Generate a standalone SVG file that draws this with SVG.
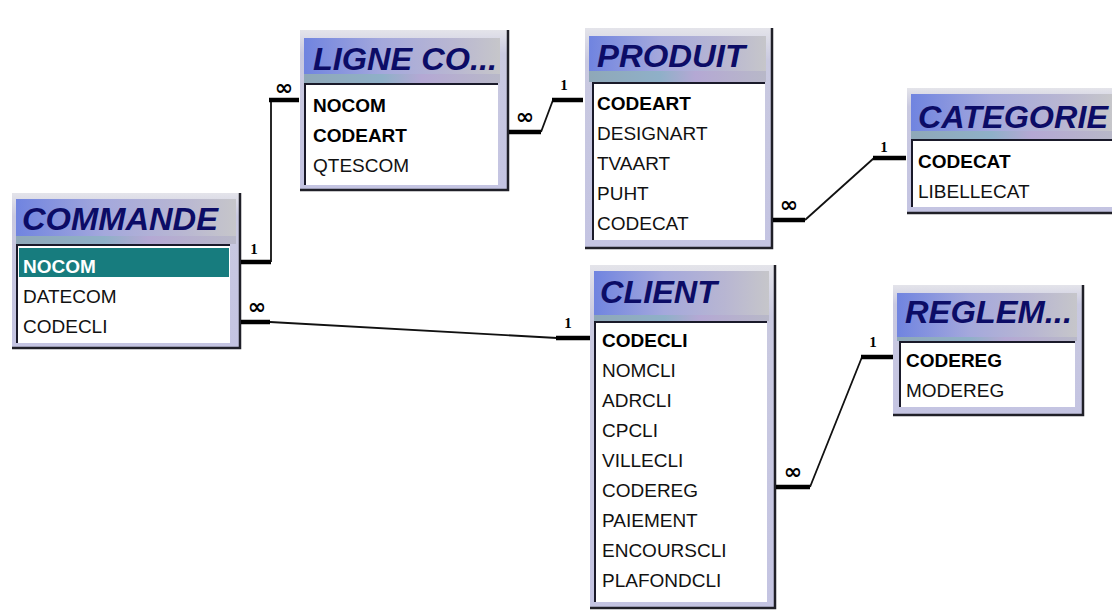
<svg xmlns="http://www.w3.org/2000/svg" width="1112" height="612" viewBox="0 0 1112 612">
<defs>
<linearGradient id="gFrame" x1="0" y1="0" x2="0" y2="1">
<stop offset="0" stop-color="#e4e4ea"/>
<stop offset="0.15" stop-color="#c9c9e0"/>
<stop offset="1" stop-color="#c4c4e2"/>
</linearGradient>
<linearGradient id="gTitle" x1="0" y1="0" x2="1" y2="0">
<stop offset="0" stop-color="#7084e0"/>
<stop offset="0.4" stop-color="#a4a8dc"/>
<stop offset="0.75" stop-color="#b8b6d2"/>
<stop offset="1" stop-color="#c6c6ca"/>
</linearGradient>
<linearGradient id="gStrip" x1="0" y1="0" x2="1" y2="0">
<stop offset="0" stop-color="#8fa8b8"/>
<stop offset="0.4" stop-color="#8fb0c8"/>
<stop offset="0.6" stop-color="#b4a8d4"/>
<stop offset="1" stop-color="#b8b8c8"/>
</linearGradient>
</defs>
<style>
.frame{fill:url(#gFrame);}
.title{fill:url(#gTitle);}
.strip{fill:url(#gStrip);}
.field{fill:#ffffff;}
.sunk{fill:none;stroke:#1a1a2a;stroke-width:2;}
.edge{fill:none;stroke:#202028;stroke-width:2.5;}
.ttl{font-family:"Liberation Sans",Arial,sans-serif;font-weight:bold;font-style:italic;font-size:31px;fill:#0c0c66;}
.fld{font-family:"Liberation Sans",Arial,sans-serif;font-size:19px;fill:#111111;}
.key{font-weight:bold;fill:#000000;}
.sel{fill:#177c7e;}
.thin{fill:none;stroke:#111111;stroke-width:1.8;}
.thick{fill:none;stroke:#000000;stroke-width:4.5;}
.one{font-family:"Liberation Serif","Times New Roman",serif;font-weight:bold;font-size:15px;fill:#000;text-anchor:middle;}
.many{font-family:"DejaVu Sans",sans-serif;font-weight:bold;font-size:22px;fill:#000;text-anchor:middle;}
</style>
<rect x="0" y="0" width="1112" height="612" fill="#ffffff"/>

<g id="commande">
<rect class="frame" x="12" y="193" width="228" height="155"/>
<rect class="title" x="16" y="199" width="220" height="37"/>
<rect class="strip" x="16" y="236" width="220" height="8"/>
<rect class="field" x="17" y="245" width="213" height="98"/>
<path class="sunk" d="M17,343 V245 H230"/>
<path class="edge" d="M240,193 V348 H12"/>
<text class="ttl" x="22" y="230" textLength="196" lengthAdjust="spacingAndGlyphs">COMMANDE</text>
<rect class="sel" x="19" y="248" width="210" height="29"/>
<text class="fld key" x="23" y="273" style="fill:#ffffff">NOCOM</text>
<text class="fld" x="23" y="303">DATECOM</text>
<text class="fld" x="23" y="333">CODECLI</text>
</g>

<g id="ligne">
<rect class="frame" x="300" y="30" width="208" height="160"/>
<rect class="title" x="304" y="38" width="196" height="36"/>
<rect class="strip" x="304" y="74" width="196" height="9"/>
<rect class="field" x="305" y="84" width="193" height="101"/>
<path class="sunk" d="M305,185 V84 H498"/>
<path class="edge" d="M508,30 V190 H300"/>
<text class="ttl" x="313" y="70" textLength="184" lengthAdjust="spacingAndGlyphs">LIGNE CO...</text>
<text class="fld key" x="313" y="112">NOCOM</text>
<text class="fld key" x="313" y="142">CODEART</text>
<text class="fld" x="313" y="172">QTESCOM</text>
</g>

<g id="produit">
<rect class="frame" x="585" y="28" width="187" height="220"/>
<rect class="title" x="589" y="36" width="177" height="35"/>
<rect class="strip" x="589" y="71" width="177" height="11"/>
<rect class="field" x="593" y="83" width="172" height="157"/>
<path class="sunk" d="M593,240 V83 H765"/>
<path class="edge" d="M772,28 V248 H585"/>
<text class="ttl" x="597" y="67" textLength="148" lengthAdjust="spacingAndGlyphs">PRODUIT</text>
<text class="fld key" x="597" y="110">CODEART</text>
<text class="fld" x="597" y="140">DESIGNART</text>
<text class="fld" x="597" y="170">TVAART</text>
<text class="fld" x="597" y="200">PUHT</text>
<text class="fld" x="597" y="230">CODECAT</text>
</g>

<g id="categorie">
<rect class="frame" x="907" y="88" width="205" height="125"/>
<rect class="title" x="911" y="94" width="201" height="37"/>
<rect class="strip" x="911" y="131" width="201" height="8"/>
<rect class="field" x="912" y="140" width="200" height="67"/>
<path class="sunk" d="M912,207 V140 H1112"/>
<path class="edge" d="M907,213 H1112"/>
<text class="ttl" x="918" y="128" textLength="190" lengthAdjust="spacingAndGlyphs">CATEGORIE</text>
<text class="fld key" x="918" y="168">CODECAT</text>
<text class="fld" x="918" y="198">LIBELLECAT</text>
</g>

<g id="client">
<rect class="frame" x="590" y="265" width="185" height="343"/>
<rect class="title" x="594" y="271" width="175" height="44"/>
<rect class="strip" x="594" y="315" width="175" height="6"/>
<rect class="field" x="595" y="322" width="172" height="280"/>
<path class="sunk" d="M595,602 V322 H767"/>
<path class="edge" d="M775,265 V608 H590"/>
<text class="ttl" x="600" y="303" textLength="117" lengthAdjust="spacingAndGlyphs">CLIENT</text>
<text class="fld key" x="602" y="347">CODECLI</text>
<text class="fld" x="602" y="377">NOMCLI</text>
<text class="fld" x="602" y="407">ADRCLI</text>
<text class="fld" x="602" y="437">CPCLI</text>
<text class="fld" x="602" y="467">VILLECLI</text>
<text class="fld" x="602" y="497">CODEREG</text>
<text class="fld" x="602" y="527">PAIEMENT</text>
<text class="fld" x="602" y="557">ENCOURSCLI</text>
<text class="fld" x="602" y="587">PLAFONDCLI</text>
</g>

<g id="reglement">
<rect class="frame" x="893" y="285" width="190" height="130"/>
<rect class="title" x="897" y="293" width="180" height="44"/>
<rect class="strip" x="897" y="337" width="180" height="4"/>
<rect class="field" x="900" y="342" width="175" height="65"/>
<path class="sunk" d="M900,407 V342 H1075"/>
<path class="edge" d="M1083,285 V415 H893"/>
<text class="ttl" x="905" y="323" textLength="167" lengthAdjust="spacingAndGlyphs">REGLEM...</text>
<text class="fld key" x="906" y="367">CODEREG</text>
<text class="fld" x="906" y="397">MODEREG</text>
</g>

<g id="connectors">
<path class="thick" d="M241,262 H271"/>
<path class="thin" d="M271,262 V100"/>
<path class="thick" d="M269,100 H299"/>
<text class="one" x="254" y="254">1</text>
<text class="many" x="284" y="95">∞</text>

<path class="thick" d="M509,132 H541"/>
<path class="thin" d="M541,132 L553,100"/>
<path class="thick" d="M552,100 H583"/>
<text class="many" x="525" y="124">∞</text>
<text class="one" x="564" y="90">1</text>

<path class="thick" d="M773,220 H805"/>
<path class="thin" d="M805,220 L874,158"/>
<path class="thick" d="M873,158 H906"/>
<text class="many" x="789" y="212">∞</text>
<text class="one" x="884" y="152">1</text>

<path class="thick" d="M241,322 H270"/>
<path class="thin" d="M270,322 L557,338"/>
<path class="thick" d="M556,338 H590"/>
<text class="many" x="257" y="314">∞</text>
<text class="one" x="568" y="328">1</text>

<path class="thick" d="M776,487 H810"/>
<path class="thin" d="M810,487 L862,357"/>
<path class="thick" d="M861,357 H893"/>
<text class="many" x="793" y="479">∞</text>
<text class="one" x="873" y="347">1</text>
</g>
</svg>
